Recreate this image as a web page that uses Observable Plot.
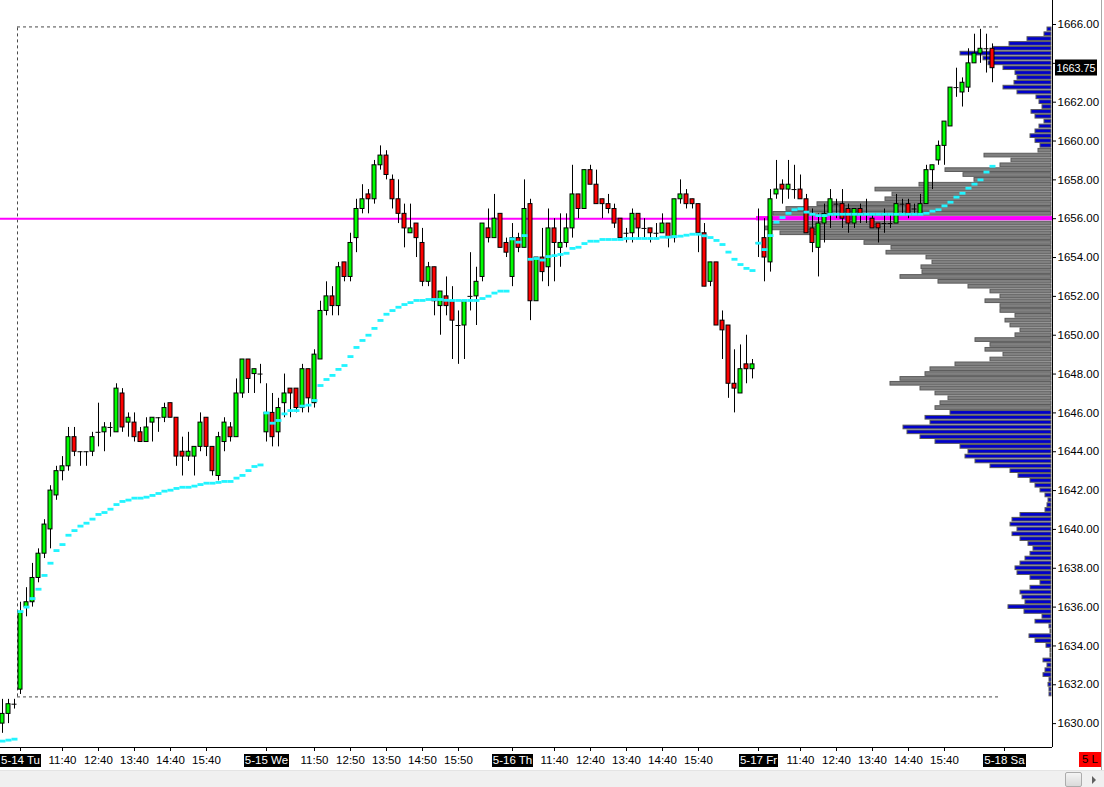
<!DOCTYPE html>
<html><head><meta charset="utf-8">
<script src="https://cdn.jsdelivr.net/npm/d3@7"></script>
<script src="https://cdn.jsdelivr.net/npm/@observablehq/plot@0.6"></script>
<style>
html,body{margin:0;padding:0;background:#fff;overflow:hidden;}
#wrap{position:relative;width:1104px;height:787px;font-family:"Liberation Sans",Arial,sans-serif;}
#chart svg{display:block;}
#scroll{position:absolute;left:0;top:770px;width:1104px;height:17px;background:#f0f0f0;border-top:1px solid #e4e4e4;}
#thumb{position:absolute;left:1065px;top:1px;width:15px;height:13px;border:1px solid #acacac;border-radius:2px;background:linear-gradient(#f4f4f4,#dadada);}
#arrow{position:absolute;left:1092px;top:5px;width:0;height:0;border-top:4px solid transparent;border-bottom:4px solid transparent;border-left:4px solid #606060;}
#badge{position:absolute;left:1079px;top:752px;width:22px;height:15px;background:#ff0000;color:#000;font-size:11.5px;line-height:15px;text-align:center;}
#edge{position:absolute;left:1101px;top:0;width:1px;height:770px;background:#a8a8a8;}
</style></head>
<body>
<div id="wrap">
  <div id="chart"></div>
  <div id="edge"></div>
  <div id="badge">5 L</div>
  <div id="scroll"><div id="thumb"></div><div id="arrow"></div></div>
</div>
<script>
// ---------- data ----------
const candleOpen = [1630.0,1630.5,1631.0,1631.75,1636.0,1636.25,1637.5,1638.75,1640.0,1641.75,
1643.0,1643.25,1644.75,1644.0,1644.0,1644.0,1645.0,1645.0,1645.25,1645.0,
1647.0,1645.5,1645.5,1645.0,1644.5,1645.5,1645.75,1645.75,1646.5,1645.75,
1644.0,1643.75,1643.75,1644.25,1645.75,1644.25,1642.75,1644.5,1645.25,1644.75,
1647.0,1648.75,1648.0,1648.0,1645.0,1646.0,1645.0,1646.5,1647.25,1647.25,
1646.25,1648.25,1646.5,1648.75,1651.25,1652.0,1651.5,1653.75,1653.0,1655.0,
1656.5,1657.25,1657.0,1658.75,1659.25,1658.0,1657.0,1656.25,1655.25,1655.75,
1654.75,1652.75,1653.5,1651.5,1652.0,1651.75,1650.5,1650.5,1652.0,1652.0,
1653.0,1655.5,1655.0,1656.25,1654.75,1653.0,1655.0,1654.5,1656.75,1651.75,
1654.0,1653.5,1655.5,1654.5,1654.75,1655.5,1657.25,1656.5,1658.5,1657.75,
1657.0,1656.75,1656.5,1656.0,1655.25,1655.25,1656.25,1655.5,1655.5,1655.25,
1655.25,1655.75,1655.0,1657.0,1657.25,1657.0,1656.75,1655.25,1652.75,1653.75,
1650.75,1650.5,1647.5,1647.0,1648.5,1648.25,1654.75,1655.0,1653.75,1657.25,
1657.75,1657.5,1657.5,1657.5,1657.0,1655.5,1654.5,1655.75,1656.25,1656.75,
1656.75,1656.5,1655.75,1656.5,1656.25,1656.0,1655.75,1655.75,1655.75,1655.75,
1656.75,1656.75,1656.5,1656.25,1656.75,1658.5,1659.0,1659.75,1660.75,1662.75,
1662.5,1662.75,1664.0,1664.5,1664.75,1664.75];
const candleHigh = [1631.25,1631.25,1631.25,1636.25,1637.0,1638.25,1639.0,1640.5,1642.25,1643.25,
1643.75,1645.25,1645.25,1644.0,1644.0,1645.0,1646.5,1645.5,1645.5,1647.5,
1647.25,1646.0,1646.0,1645.25,1645.75,1645.75,1645.75,1646.5,1646.5,1645.75,
1644.75,1645.0,1644.25,1646.0,1645.75,1644.25,1645.0,1645.75,1645.5,1647.75,
1648.75,1648.75,1648.25,1648.5,1647.5,1647.0,1646.75,1648.0,1647.25,1647.25,
1648.5,1648.25,1649.25,1651.75,1652.75,1652.5,1653.75,1653.75,1655.25,1657.0,
1657.75,1657.5,1659.0,1659.75,1659.5,1658.25,1658.0,1656.75,1656.75,1655.75,
1655.5,1653.75,1653.5,1652.25,1653.0,1652.5,1651.25,1651.75,1654.25,1653.5,
1655.75,1656.5,1657.25,1656.25,1655.0,1655.75,1655.25,1658.0,1657.0,1654.0,
1655.5,1656.5,1656.0,1656.25,1656.25,1658.75,1657.25,1658.5,1658.75,1658.5,
1657.0,1657.25,1656.75,1656.0,1655.5,1656.5,1656.25,1656.0,1655.5,1655.75,
1656.25,1655.75,1657.0,1658.0,1657.5,1657.0,1656.75,1655.75,1653.75,1653.75,
1651.25,1650.5,1649.25,1649.5,1650.0,1648.75,1656.5,1656.0,1657.5,1659.0,
1658.0,1659.0,1658.75,1658.25,1657.25,1656.5,1656.25,1656.75,1657.5,1657.0,
1657.5,1656.75,1656.5,1656.75,1657.0,1656.25,1655.75,1656.5,1656.25,1657.25,
1657.0,1657.0,1656.75,1657.25,1658.75,1658.75,1660.0,1661.0,1662.75,1663.75,
1663.25,1664.75,1665.5,1665.75,1665.5,1665.0];
const candleLow = [1629.5,1630.0,1630.75,1631.5,1635.5,1636.0,1637.25,1638.5,1639.0,1641.5,
1642.5,1643.0,1643.75,1643.25,1643.25,1643.75,1644.25,1644.0,1644.75,1645.0,
1645.0,1644.75,1644.5,1644.5,1644.5,1644.5,1645.0,1645.5,1645.75,1643.25,
1642.75,1643.5,1642.75,1644.0,1643.75,1642.75,1642.5,1644.0,1644.5,1644.75,
1646.75,1647.0,1647.0,1647.5,1644.5,1644.25,1644.25,1645.75,1645.75,1646.0,
1646.0,1646.0,1646.25,1648.75,1651.0,1651.0,1651.0,1652.75,1652.75,1654.25,
1656.25,1656.25,1656.75,1658.5,1658.0,1656.5,1655.75,1654.5,1655.25,1654.0,
1652.5,1652.5,1651.0,1650.0,1651.0,1648.75,1648.5,1648.75,1651.25,1650.5,
1652.75,1654.75,1655.0,1654.5,1654.0,1652.5,1654.25,1654.5,1650.75,1651.75,
1652.75,1652.5,1652.75,1653.5,1654.5,1655.0,1656.0,1656.5,1657.75,1656.75,
1656.0,1656.25,1655.5,1655.0,1654.75,1654.75,1655.0,1655.0,1654.75,1655.0,
1655.25,1654.5,1654.75,1656.75,1656.5,1656.5,1654.25,1652.5,1652.5,1650.5,
1648.75,1646.75,1646.0,1647.0,1647.5,1647.75,1654.0,1652.75,1653.25,1657.0,
1656.75,1657.0,1657.0,1657.0,1655.25,1654.25,1653.0,1654.75,1655.5,1656.0,
1655.5,1655.25,1655.5,1655.75,1655.75,1655.5,1654.75,1655.25,1655.5,1655.75,
1656.25,1656.0,1656.25,1656.25,1656.75,1657.5,1658.75,1658.75,1660.75,1662.25,
1661.75,1662.5,1664.0,1664.0,1663.5,1663.0];
const candleClose = [1630.5,1631.0,1631.0,1635.75,1636.25,1637.5,1638.75,1640.25,1642.0,1643.0,
1643.25,1644.75,1644.0,1644.0,1644.0,1644.75,1645.0,1645.25,1645.25,1647.25,
1645.25,1645.75,1644.75,1644.5,1645.25,1645.75,1645.75,1646.25,1645.75,1643.75,
1643.75,1644.0,1644.25,1645.5,1644.25,1643.0,1644.75,1645.5,1644.75,1647.0,
1648.75,1647.75,1648.25,1648.0,1646.0,1644.75,1646.25,1647.0,1647.0,1646.25,
1648.25,1646.75,1649.0,1651.25,1652.0,1651.5,1653.5,1653.0,1654.75,1656.5,
1657.0,1657.0,1658.75,1659.25,1658.25,1657.0,1656.25,1655.5,1655.5,1655.0,
1652.75,1653.5,1651.75,1652.25,1651.5,1650.75,1650.5,1651.75,1652.0,1652.75,
1655.75,1655.0,1656.0,1654.5,1654.25,1655.0,1654.5,1656.5,1651.75,1654.0,
1653.25,1655.5,1654.75,1654.75,1655.5,1657.25,1656.5,1658.5,1657.75,1656.75,
1656.75,1656.5,1655.75,1655.0,1655.25,1656.25,1655.5,1655.5,1655.25,1655.25,
1655.75,1655.0,1657.0,1657.25,1656.75,1656.75,1655.25,1652.5,1653.75,1650.5,
1650.25,1647.5,1647.25,1648.25,1648.25,1648.5,1654.75,1654.0,1657.0,1657.5,
1657.5,1657.75,1657.5,1657.0,1655.25,1654.75,1655.75,1656.25,1657.0,1656.75,
1656.0,1655.75,1656.5,1656.25,1656.25,1655.5,1655.5,1655.75,1655.75,1656.75,
1656.75,1656.25,1656.5,1656.75,1658.5,1658.75,1659.75,1661.0,1662.75,1662.75,
1663.0,1664.0,1664.5,1664.75,1664.75,1663.75];
// developing VWAP per bar (resets each session)
const vwapValue = [1629.1,1629.15,1629.2,
1635.77,1636.0,1636.44,1636.92,1637.63,1638.26,1638.91,1639.22,1639.70,1639.94,
1640.17,1640.32,1640.53,1640.77,1640.87,1641.04,1641.28,1641.44,1641.51,1641.61,
1641.61,1641.66,1641.75,1641.85,1641.97,1642.02,1642.11,1642.17,1642.17,1642.23,
1642.31,1642.38,1642.38,1642.42,1642.47,1642.47,1642.64,1642.78,1643.03,1643.24,1643.32,
1646.0,1645.47,1645.61,1645.95,1646.12,1646.12,1646.35,1646.40,1646.64,1647.41,
1647.72,1647.93,1648.24,1648.44,1648.90,1649.37,1649.73,1650.0,1650.35,1650.76,
1651.08,1651.27,1651.44,1651.58,1651.68,1651.79,1651.79,1651.84,1651.84,1651.84,
1651.80,1651.79,1651.79,1651.79,1651.79,1651.79,1651.89,1652.01,1652.17,1652.27,1652.27,
1654.96,1654.79,1655.13,1653.91,1653.95,1653.87,1654.05,1654.10,1654.16,1654.22,
1654.47,1654.53,1654.72,1654.84,1654.84,1654.93,1654.93,1654.93,1654.93,1654.98,
1654.98,1654.98,1654.98,1654.98,1654.98,1655.05,1655.05,1655.08,1655.10,1655.15,
1655.20,1655.20,1655.12,1655.03,1654.88,1654.67,1654.28,1653.91,1653.64,1653.44,1653.33,
1654.74,1654.41,1655.13,1655.82,1656.06,1656.28,1656.46,1656.51,1656.34,1656.23,
1656.16,1656.16,1656.23,1656.23,1656.23,1656.23,1656.23,1656.23,1656.23,1656.23,
1656.23,1656.23,1656.23,1656.23,1656.23,1656.23,1656.23,1656.23,1656.28,1656.39,
1656.46,1656.66,1656.85,1657.11,1657.31,1657.57,1657.78,1658.0,1658.4,1658.7];
// volume profile, price levels from 1665.75 down to 1631.50 in 0.25 steps
const profileTopPrice = 1665.75;
const profileTick = 0.25;
const profileVolume = [
4,7,24,42,58,91,68,63,
48,36,34,37,48,34,15,12,
9,20,16,7,12,16,21,16,
11,13,67,40,51,106,88,77,
132,176,159,166,234,265,278,295,
281,286,271,234,187,160,165,125,
119,130,129,151,113,83,61,51,
66,51,51,36,46,41,31,36,
76,61,66,48,61,96,121,126,
151,161,131,116,103,111,116,101,
126,121,148,144,131,116,91,83,
86,76,61,41,33,21,16,11,
6,3,4,6,31,39,41,34,
39,31,23,18,21,26,31,36,
34,21,11,21,31,29,26,43,
27,9,16,2,1,22,16,5,
1,1,8,4,6,8,2,3,
2,2];
const pocPrice = 1656.0;
const valueAreaHigh = 1659.5;
const valueAreaLow = 1646.25;
const profileFirstBar = 3;
const priceTicks = [1630,1632,1634,1636,1638,1640,1642,1644,1646,1648,1650,1652,1654,1656,1658,1660,1662,1664,1666];
const timeTickBar = [3,10,16,22,28,34,44,52,58,64,70,76,85,92,98,104,110,116,126,133,139,145,151,157,167];
const timeTickLabel = ["5-14 Tu","11:40","12:40","13:40","14:40","15:40","5-15 We","11:50","12:50","13:50","14:50","15:50","5-16 Th","11:40","12:40","13:40","14:40","15:40","5-17 Fr","11:40","12:40","13:40","14:40","15:40","5-18 Sa"];

// ---------- tables ----------
const candles = candleOpen.map((o, i) => ({i, open: o, high: candleHigh[i], low: candleLow[i], close: candleClose[i]}));
const bodies = candles.filter(d => d.open !== d.close);
const dojis = candles.filter(d => d.open === d.close);
const vwap = vwapValue.map((v, i) => ({i, v})).filter(d => d.v != null);
const profile = profileVolume.map((v, k) => ({p: profileTopPrice - k * profileTick, v}));
const pHigh = d3.max(profile, d => d.p) + profileTick / 2;
const pLow = d3.min(profile, d => d.p) - profileTick / 2;
const lastBar = candles.length - 1;
const lastPrice = candleClose[lastBar];
const shownTicks = priceTicks.filter(t => Math.abs(t - lastPrice) > 0.6);
const hiddenTicks = priceTicks.filter(t => Math.abs(t - lastPrice) <= 0.6);

// ---------- layout ----------
const W = 1104, H = 770, mR = 52, mB = 23;
const barPx = 6;                       // pixel pitch of one bar
const xDomain = [-2 / barPx, (W - mR - 2) / barPx];
const pxPerPoint = 19.42;
const yDomain = [1666 - (H - mB - 24) / pxPerPoint, 1666 + 24 / pxPerPoint];
const xRight = xDomain[1];
const volToBars = v => v / barPx;

const chart = Plot.plot({
  width: W, height: H,
  marginLeft: 0, marginRight: mR, marginTop: 0, marginBottom: mB,
  x: {domain: xDomain, axis: null},
  y: {domain: yDomain, axis: null},
  style: {background: "white", fontFamily: "Liberation Sans, Arial, sans-serif", fontSize: "11.5px", overflow: "visible"},
  marks: [
    // volume profile
    Plot.rect(profile.filter(d => d.p !== pocPrice), {
      x1: d => xRight - 1 / barPx - volToBars(d.v), x2: xRight - 1 / barPx,
      y1: d => d.p - profileTick / 2, y2: d => d.p + profileTick / 2,
      insetTop: 0.6, insetBottom: 0.6,
      fill: d => (d.p <= valueAreaHigh && d.p >= valueAreaLow) ? "#808080" : "#0000cc",
      stroke: "#5a5a5a", strokeWidth: 1
    }),
    Plot.rect(profile.filter(d => d.p === pocPrice), {
      x1: d => xRight - 1 / barPx - volToBars(d.v), x2: xRight,
      y1: d => d.p - profileTick / 2, y2: d => d.p + profileTick / 2,
      insetTop: 0.3, insetBottom: 0.3,
      fill: "#ff00ff"
    }),
    // range box
    Plot.ruleY([pHigh, pLow], {x1: profileFirstBar - 0.5, x2: lastBar + 1, stroke: "#4a4a4a", strokeDasharray: "3,3"}),
    Plot.ruleX([profileFirstBar - 0.5], {y1: pLow, y2: pHigh, stroke: "#4a4a4a", strokeDasharray: "3,3"}),
    // POC line
    Plot.ruleY([pocPrice], {stroke: "#ff00ff", strokeWidth: 2}),
    // candles
    Plot.ruleX(candles, {x: "i", y1: "low", y2: "high", stroke: "black", strokeWidth: 1}),
    Plot.rect(bodies, {
      x1: d => d.i - 1 / 3, x2: d => d.i + 1 / 3,
      y1: d => Math.min(d.open, d.close), y2: d => Math.max(d.open, d.close),
      fill: d => d.close > d.open ? "#00ff00" : "#ff0000",
      stroke: "black", strokeWidth: 1
    }),
    Plot.ruleY(dojis, {y: "open", x1: d => d.i - 0.42, x2: d => d.i + 0.42, stroke: "black", strokeWidth: 1}),
    // VWAP dashes
    Plot.ruleY(vwap, {y: "v", x1: d => d.i - 0.42, x2: d => d.i + 0.58, stroke: "#22f4ff", strokeWidth: 2.8}),
    // frame
    Plot.ruleX([xRight], {stroke: "black"}),
    Plot.ruleY([yDomain[0]], {x1: xDomain[0], x2: xRight, stroke: "black"}),
    // price axis; the label lying under the last-price tag is covered by it, as in the source
    Plot.axisY({anchor: "right", ticks: shownTicks, tickFormat: d => d.toFixed(2), tickSize: 3, tickPadding: 2, fontSize: 11.5, label: null}),
    Plot.ruleY(hiddenTicks, {x1: xRight, x2: xRight + 3 / barPx, stroke: "black"})
  ]
});

document.getElementById("chart").appendChild(chart);

// ---------- extra annotations using Plot's scales ----------
const sx = chart.scale("x"), sy = chart.scale("y");
const svg = d3.select(chart);
const g = svg.append("g").attr("font-family", "Liberation Sans, Arial, sans-serif").attr("font-size", 11.5);
const axisY0 = H - mB;
timeTickBar.forEach((b, k) => {
  const px = Math.round(sx.apply(b)) + 0.5;
  const label = timeTickLabel[k];
  const isDay = label.includes("-");
  g.append("line").attr("x1", px).attr("x2", px).attr("y1", axisY0).attr("y2", axisY0 + 4).attr("stroke", "black");
  const t = g.append("text").attr("x", px).attr("y", axisY0 + 17).attr("text-anchor", "middle")
    .attr("fill", isDay ? "white" : "black").text(label);
  if (isDay) {
    const bb = t.node().getBBox();
    g.insert("rect", () => t.node())
      .attr("x", Math.round(bb.x) - 1).attr("y", axisY0 + 7).attr("width", Math.round(bb.width) + 2).attr("height", 13)
      .attr("fill", "black");
  }
});
// last price tag
const ly = sy.apply(lastPrice);
const tagX = sx.apply(xRight) + 3;
g.append("rect").attr("x", tagX).attr("y", Math.round(ly) - 8.5).attr("width", 42).attr("height", 16).attr("fill", "black");
g.append("text").attr("x", tagX + 21).attr("y", ly + 4).attr("text-anchor", "middle").attr("font-size", 10.8)
  .attr("fill", "white").text(lastPrice.toFixed(2));
</script>
</body></html>
